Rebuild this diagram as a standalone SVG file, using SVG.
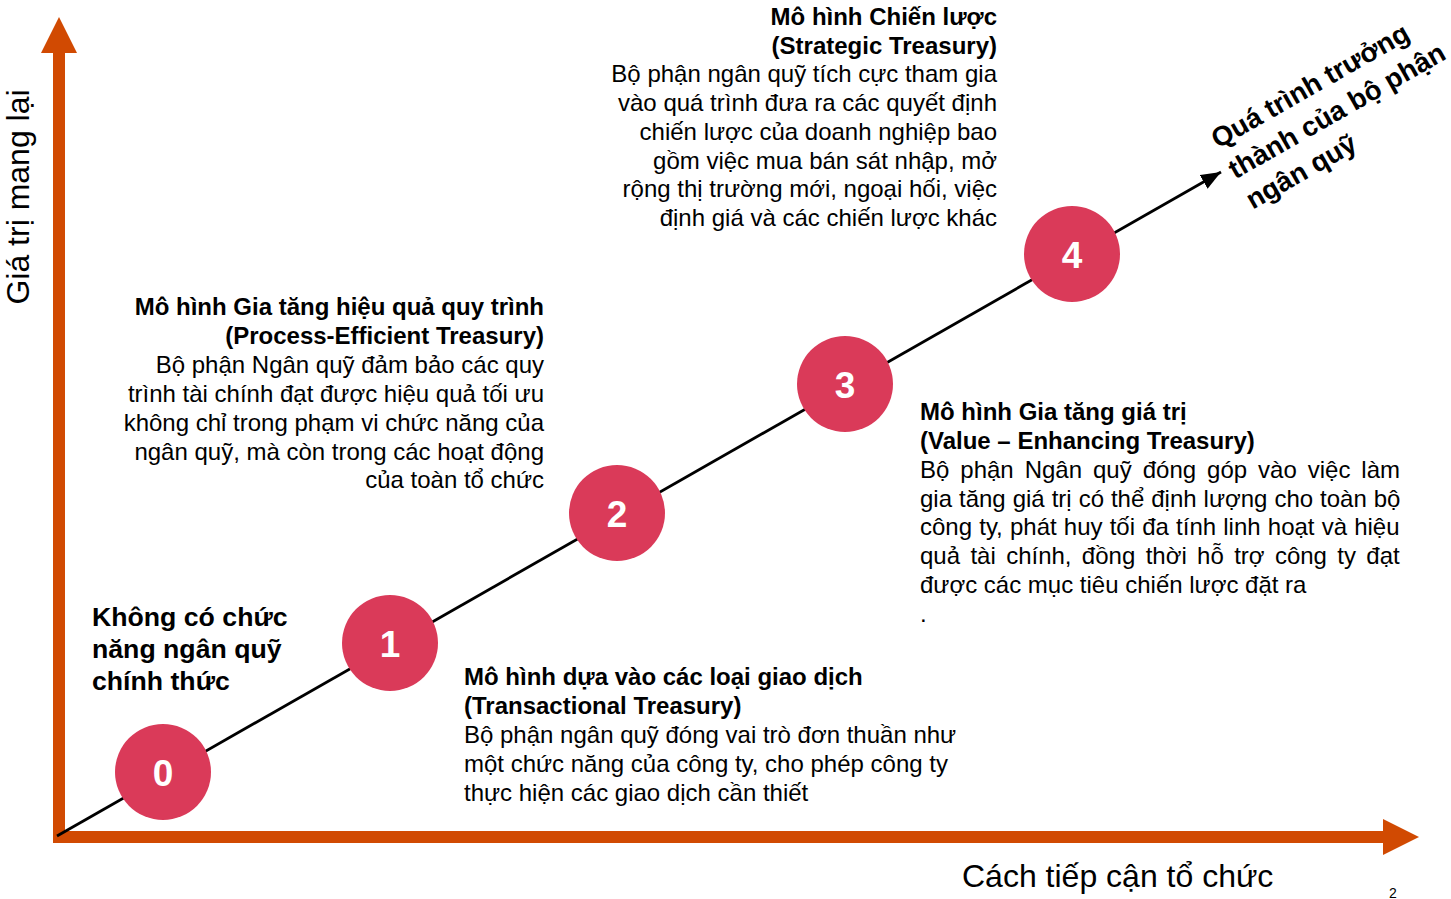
<svg xmlns="http://www.w3.org/2000/svg" width="1451" height="899" viewBox="0 0 1451 899">
<style>
text{font-family:"Liberation Sans",Arial,sans-serif;fill:#000}
.b{font-weight:bold}
.t24{font-size:24px}
.t26{font-size:26.67px;font-weight:bold}
.ax{fill:#D14A02}
.num{font-size:37px;font-weight:bold;fill:#fff;text-anchor:middle}
.c{fill:#DA3A59}
.e{text-anchor:end}
</style>
<defs>
<marker id="ah" markerUnits="userSpaceOnUse" markerWidth="24" markerHeight="18" refX="20" refY="8" orient="auto">
<path d="M0,0 L20,8 L0,16 Z" fill="#000"/>
</marker>
</defs>
<rect width="1451" height="899" fill="#fff"/>
<g id="axes">
<rect class="ax" x="53" y="52" width="12" height="791"/>
<polygon class="ax" points="59,17 41,53 77,53"/>
<rect class="ax" x="53" y="831" width="1331" height="12"/>
<polygon class="ax" points="1383,819 1419,837 1383,855"/>
</g>
<g id="connectors">
<line x1="57" y1="836" x2="1221" y2="172" stroke="#000" stroke-width="2.8" marker-end="url(#ah)"/>
</g>
<g id="node0"><circle class="c" cx="163" cy="772" r="48"/><text class="num" x="163" y="786">0</text></g>
<g id="node1"><circle class="c" cx="390" cy="643" r="48"/><text class="num" x="390" y="657">1</text></g>
<g id="node2"><circle class="c" cx="617" cy="513" r="48"/><text class="num" x="617" y="527">2</text></g>
<g id="node3"><circle class="c" cx="845" cy="384" r="48"/><text class="num" x="845" y="398">3</text></g>
<g id="node4"><circle class="c" cx="1072" cy="254" r="48"/><text class="num" x="1072" y="268">4</text></g>
<g id="label-y"><text transform="translate(29,197) rotate(-90)" text-anchor="middle" font-size="32">Giá trị mang lại</text></g>
<g id="label-x"><text x="962" y="887" font-size="32">Cách tiếp cận tổ chức</text></g>
<g id="page"><text x="1393" y="898" font-size="14" text-anchor="middle">2</text></g>
<g id="label-diag" transform="translate(1218,149) rotate(-29.7)">
<text class="b" font-size="27.5" x="0" y="0">Quá trình trưởng</text>
<text class="b" font-size="27.5" x="0" y="35">thành của bộ phận</text>
<text class="b" font-size="27.5" x="0" y="70">ngân quỹ</text>
</g>
<g id="text0">
<text class="t26" x="92" y="626">Không có chức</text>
<text class="t26" x="92" y="658">năng ngân quỹ</text>
<text class="t26" x="92" y="690">chính thức</text>
</g>
<g id="text1" class="t24">
<text class="b" x="464" y="685">Mô hình dựa vào các loại giao dịch</text>
<text class="b" x="464" y="714">(Transactional Treasury)</text>
<text x="464" y="743">Bộ phận ngân quỹ đóng vai trò đơn thuần như</text>
<text x="464" y="772">một chức năng của công ty, cho phép công ty</text>
<text x="464" y="801">thực hiện các giao dịch cần thiết</text>
</g>
<g id="text2" class="t24">
<text class="b e" x="544" y="315">Mô hình Gia tăng hiệu quả quy trình</text>
<text class="b e" x="544" y="344">(Process-Efficient Treasury)</text>
<text class="e" x="544" y="373">Bộ phận Ngân quỹ đảm bảo các quy</text>
<text class="e" x="544" y="402">trình tài chính đạt được hiệu quả tối ưu</text>
<text class="e" x="544" y="431">không chỉ trong phạm vi chức năng của</text>
<text class="e" x="544" y="460">ngân quỹ, mà còn trong các hoạt động</text>
<text class="e" x="544" y="488">của toàn tổ chức</text>
</g>
<g id="text3" class="t24">
<text class="b" x="920" y="420">Mô hình Gia tăng giá trị</text>
<text class="b" x="920" y="449">(Value – Enhancing Treasury)</text>
<text x="920" y="478" word-spacing="4.3">Bộ phận Ngân quỹ đóng góp vào việc làm</text>
<text x="920" y="507" word-spacing="0.3">gia tăng giá trị có thể định lượng cho toàn bộ</text>
<text x="920" y="535" word-spacing="0.5">công ty, phát huy tối đa tính linh hoạt và hiệu</text>
<text x="920" y="564" word-spacing="3.7">quả tài chính, đồng thời hỗ trợ công ty đạt</text>
<text x="920" y="593">được các mục tiêu chiến lược đặt ra</text>
<text x="920" y="622">.</text>
</g>
<g id="text4" class="t24">
<text class="b e" x="997" y="25">Mô hình Chiến lược</text>
<text class="b e" x="997" y="54">(Strategic Treasury)</text>
<text class="e" x="997" y="82">Bộ phận ngân quỹ tích cực tham gia</text>
<text class="e" x="997" y="111">vào quá trình đưa ra các quyết định</text>
<text class="e" x="997" y="140">chiến lược của doanh nghiệp bao</text>
<text class="e" x="997" y="169">gồm việc mua bán sát nhập, mở</text>
<text class="e" x="997" y="197">rộng thị trường mới, ngoại hối, việc</text>
<text class="e" x="997" y="226">định giá và các chiến lược khác</text>
</g>
</svg>
